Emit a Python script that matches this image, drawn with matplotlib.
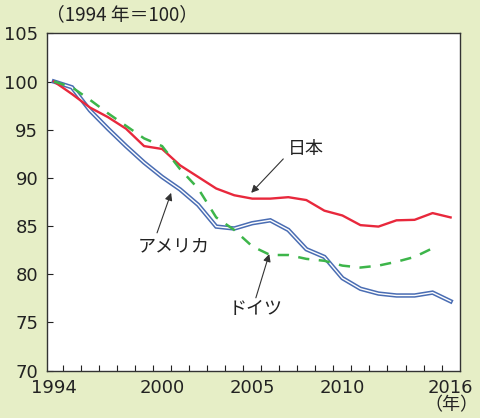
import numpy as np
import matplotlib
matplotlib.use("Agg")
import matplotlib.pyplot as plt
from matplotlib.ticker import FixedLocator

years = list(range(1994, 2017))
japan = [100, 98.7, 97.3, 96.3, 95.1, 93.3, 93.0, 91.3, 90.1, 88.9, 88.2, 87.85,
         87.85, 88.0, 87.7, 86.6, 86.1, 85.1, 84.95, 85.6, 85.65, 86.35, 85.9]
usa = [100, 99.4, 97.0, 95.1, 93.3, 91.6, 90.1, 88.8, 87.2, 84.95, 84.75, 85.3,
       85.6, 84.6, 82.6, 81.8, 79.6, 78.5, 78.0, 77.8, 77.8, 78.1, 77.2]
germany_years = list(range(1994, 2016))
germany = [100, 99.4, 98.1, 96.7, 95.4, 94.1, 93.3, 90.9, 88.9, 85.9, 84.6, 82.9,
           82.0, 82.0, 81.6, 81.4, 80.9, 80.7, 80.9, 81.3, 81.8, 82.7]

xlabels = [1994, 2000, 2005, 2010, 2016]
yticks = [70, 75, 80, 85, 90, 95, 100, 105]

jp_font = ["Noto Sans CJK JP", "DejaVu Sans"]
bg = "#e6eec6"

fig = plt.figure(figsize=(4.81, 4.18), dpi=100, facecolor=bg)
ax = fig.add_axes([0.0971, 0.1132, 0.9563 - 0.0971, 0.9203 - 0.1132])
ax.set_facecolor("white")

# アメリカ: double line (blue outline, white core)
ax.plot(years, usa, color="#4a6db3", lw=3.2, solid_joinstyle="miter", zorder=2)
ax.plot(years, usa, color="white", lw=1.0, zorder=2.1)
ax.plot(years, japan, color="#e8283c", lw=1.7, zorder=3)
ax.plot(germany_years, germany, color="#3db54a", lw=1.8, dashes=(4.5, 3.8), zorder=4)

ax.set_xlim(1993.6, 2016.52)
ax.set_ylim(70, 105)

ax.set_yticks(yticks)
ax.tick_params(axis="y", direction="in", length=4.5, width=0.8, labelsize=13, pad=6, colors="#222222")
ax.set_xticks(xlabels)
ax.xaxis.set_minor_locator(FixedLocator(np.arange(1994.5, 2016, 1.0)))
ax.tick_params(axis="x", which="major", length=0, labelsize=13, pad=6, colors="#222222")
ax.tick_params(axis="x", which="minor", direction="in", length=4.5, width=0.8, color="#222222")
for s in ax.spines.values():
    s.set_color("#333333")
    s.set_linewidth(1.0)

arrow = dict(arrowstyle="-|>", color="#333333", lw=0.8, mutation_scale=11, shrinkA=0, shrinkB=0)
ax.annotate("", xy=(2004.94, 88.45), xytext=(2006.72, 91.97), arrowprops=arrow)
ax.annotate("", xy=(2000.5, 88.45), xytext=(1999.72, 84.3), arrowprops=arrow)
ax.annotate("", xy=(2005.94, 82.1), xytext=(2005.2, 77.56), arrowprops=arrow)

ax.text(2008.0, 93.0, "日本", family=jp_font, fontsize=13, ha="center", va="center", color="#222222")
ax.text(2000.67, 82.85, "アメリカ", family=jp_font, fontsize=13, ha="center", va="center", color="#222222")
ax.text(2005.17, 76.4, "ドイツ", family=jp_font, fontsize=13, ha="center", va="center", color="#222222")

fig.text(0.095, 1 - 15 / 418, "（1994 年＝100）", family=jp_font, fontsize=13.5,
         ha="left", va="center", color="#222222")
fig.text(451.7 / 481, 1 - 405 / 418, "（年）", family=jp_font, fontsize=13,
         ha="center", va="center", color="#222222")

fig.savefig("out.png", dpi=100, facecolor=bg)
